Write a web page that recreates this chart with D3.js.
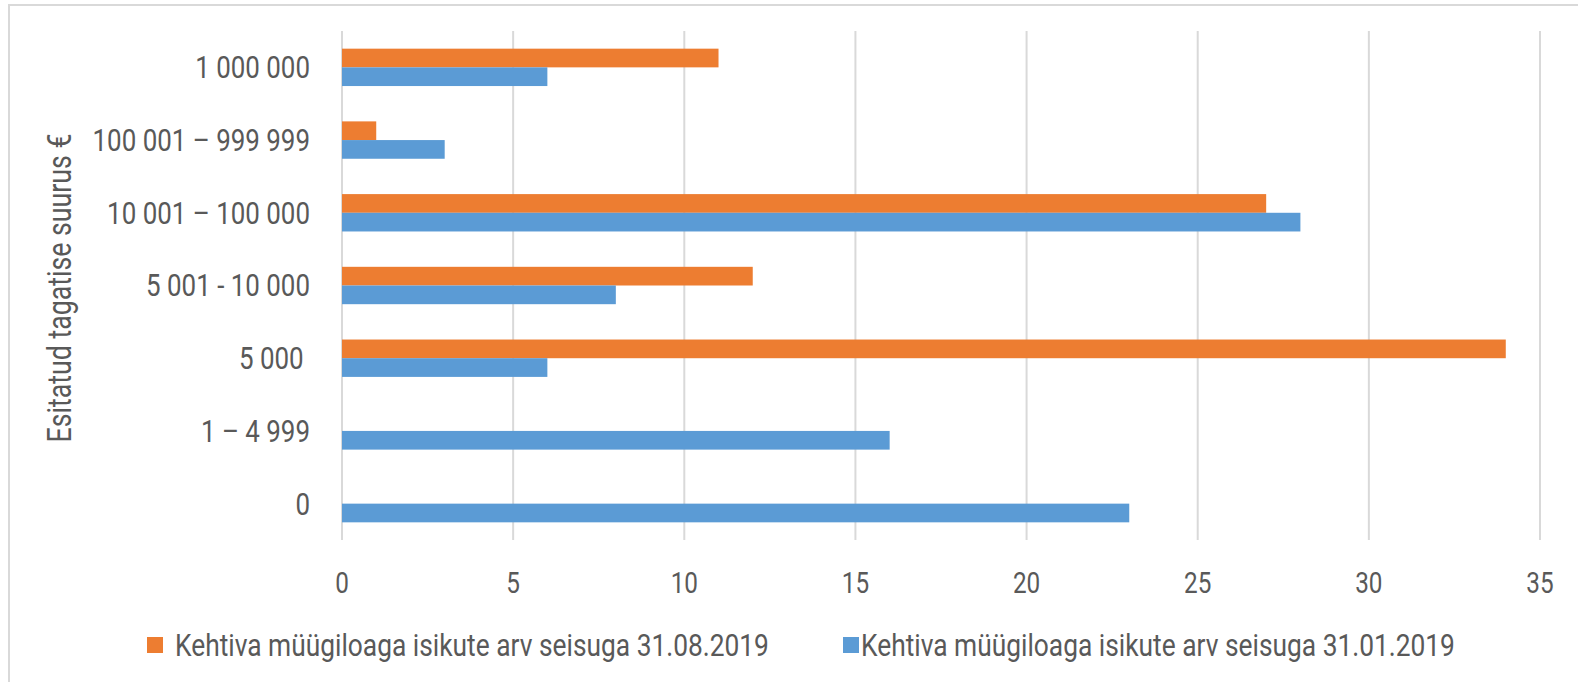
<!DOCTYPE html>
<html>
<head>
<meta charset="utf-8">
<script src="https://cdn.jsdelivr.net/npm/d3@7"></script>
<style>
  body { margin: 0; background: #fff; }
  text { font-family: Roboto, "Noto Sans", sans-serif; fill: #595959; }
</style>
</head>
<body>
<div id="chart"></div>
<script>
// categories top to bottom, as in the picture
const categories = ['1 000 000', '100 001 – 999 999', '10 001 – 100 000', '5 001 - 10 000', '5 000 ', '1 – 4 999', '0'];
const seriesNames = ['Kehtiva müügiloaga isikute arv seisuga 31.08.2019', 'Kehtiva müügiloaga isikute arv seisuga 31.01.2019'];
const augustValues = [11, 1, 27, 12, 34, 0, 0];
const januaryValues = [6, 3, 28, 8, 6, 16, 23];
const xTicks = [0, 5, 10, 15, 20, 25, 30, 35];
const colors = ['#ED7D31', '#5B9BD5'];

const W = 1578, H = 682;
const squeeze = 0.81; // the original uses a condensed face
const svg = d3.select('#chart').append('svg')
  .attr('width', W).attr('height', H);

// outer frame (runs off the right and bottom edges)
svg.append('rect')
  .attr('x', 9).attr('y', 5)
  .attr('width', W + 20).attr('height', H + 20)
  .attr('fill', '#fff').attr('stroke', '#d9d9d9').attr('stroke-width', 2);

const x = d3.scaleLinear().domain([0, 35]).range([342, 1540]);
const y = d3.scaleBand().domain(categories).range([31, 540])
  .paddingInner(0.486).paddingOuter(0.243);
const ySub = d3.scaleBand().domain([0, 1]).range([0, y.bandwidth()]);

// gridlines
svg.append('g').selectAll('line')
  .data(xTicks).enter().append('line')
    .attr('x1', d => x(d)).attr('x2', d => x(d))
    .attr('y1', 31).attr('y2', 540)
    .attr('stroke', '#d9d9d9').attr('stroke-width', 2);

// bars
let rows = categories.map((c, i) => ({cat: c, vals: [augustValues[i], januaryValues[i]]}));
let rowG = svg.append('g').selectAll('g')
  .data(rows).enter().append('g')
    .attr('transform', d => `translate(0,${y(d.cat)})`);
rowG.selectAll('rect')
  .data(d => d.vals.map((v, s) => ({v, s})))
  .enter().append('rect')
    .attr('x', x(0))
    .attr('y', d => ySub(d.s))
    .attr('width', d => x(d.v) - x(0))
    .attr('height', ySub.bandwidth())
    .attr('fill', d => colors[d.s]);

// x tick labels
svg.append('g').selectAll('text')
  .data(xTicks).enter().append('text')
    .attr('transform', d => `translate(${x(d)},583) scale(${squeeze},1)`)
    .attr('text-anchor', 'middle').attr('dominant-baseline', 'central')
    .attr('font-size', 30)
    .text(d => d);

// category labels
svg.append('g').selectAll('text')
  .data(categories).enter().append('text')
    .attr('transform', d => `translate(310,${y(d) + y.bandwidth() / 2}) scale(${squeeze},1)`)
    .attr('text-anchor', 'end').attr('dominant-baseline', 'central')
    .attr('font-size', 32)
    .style('white-space', 'pre')
    .text(d => d);

// axis title
svg.append('text')
  .attr('transform', `translate(59,288) rotate(-90) scale(${squeeze},1)`)
  .attr('text-anchor', 'middle').attr('dominant-baseline', 'central')
  .attr('font-size', 33)
  .text('Esitatud tagatise suurus €');

// legend
const legendX = [147, 843];
const legendGap = [28, 18];
let leg = svg.append('g').selectAll('g')
  .data(seriesNames).enter().append('g')
    .attr('transform', (d, i) => `translate(${legendX[i]},645)`);
leg.append('rect')
  .attr('x', 0).attr('y', -8).attr('width', 16).attr('height', 16)
  .attr('fill', (d, i) => colors[i]);
leg.append('text')
  .attr('transform', (d, i) => `translate(${legendGap[i]},0) scale(0.85,1)`)
  .attr('dominant-baseline', 'central')
  .attr('font-size', 31)
  .text(d => d);
</script>
</body>
</html>
